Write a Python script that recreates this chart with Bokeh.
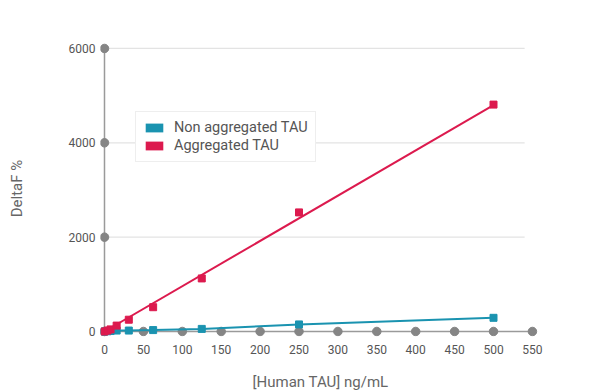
from bokeh.plotting import figure
from bokeh.models import Range1d, FixedTicker, Legend, LegendItem
from bokeh.embed import file_html
from bokeh.resources import INLINE

# ---- data ----
conc = [0, 3.9, 7.8, 15.6, 31.25, 62.5, 125, 250, 500]
aggregated = [0, 20, 45, 125, 250, 515, 1125, 2525, 4810]
non_aggregated = [0, 5, 10, 20, 20, 30, 55, 150, 290]
agg_fit_x = [0, 500]
agg_fit_y = [0, 4800]
x_ticks = [0, 50, 100, 150, 200, 250, 300, 350, 400, 450, 500, 550]
y_ticks = [0, 2000, 4000, 6000]
grid_levels = [2000, 4000, 6000]
grid_end = 540
series_names = ["Non aggregated TAU", "Aggregated TAU"]

TEAL = "#1a93b0"
CRIMSON = "#dc1a4e"
AXIS = "#9a9a9a"
DOT = "#858585"
FONT = "Roboto"
NAN = float("nan")

p = figure(frame_width=440, frame_height=296, min_border_left=100, min_border_top=40,
           min_border_right=24, min_border_bottom=44,
           x_range=Range1d(-5.14, 560.4), y_range=Range1d(-106, 6169),
           output_backend="svg", toolbar_location=None)
p.outline_line_color = None
p.xgrid.visible = False
p.ygrid.visible = False
p.background_fill_color = "white"
p.border_fill_color = "white"

for ax in (p.xaxis[0], p.yaxis[0]):
    ax.axis_line_color = None
    ax.major_tick_line_color = None
    ax.minor_tick_line_color = None
    ax.major_tick_out = 0
    ax.major_tick_in = 0
    ax.major_label_text_font = FONT
    ax.major_label_text_font_size = "12px"
    ax.major_label_text_color = "#555555"
    ax.axis_label_text_font = FONT
    ax.axis_label_text_font_size = "15px"
    ax.axis_label_text_font_style = "normal"
    ax.axis_label_text_color = "#666666"

p.xaxis.ticker = FixedTicker(ticks=x_ticks)
p.yaxis.ticker = FixedTicker(ticks=y_ticks)
p.xaxis.major_label_standoff = 8
p.yaxis.major_label_standoff = 5
p.xaxis.axis_label = "[Human TAU] ng/mL"
p.yaxis.axis_label = "DeltaF %"
p.xaxis.axis_label_standoff = 16
p.yaxis.axis_label_standoff = 40

# grid lines
p.segment(x0=[0] * len(grid_levels), y0=grid_levels, x1=[grid_end] * len(grid_levels),
          y1=grid_levels, line_color="#e3e3e3", line_width=1.2)
# axis lines
p.segment(x0=[0, 0], y0=[0, 0], x1=[x_ticks[-1], 0], y1=[0, y_ticks[-1]],
          line_color=AXIS, line_width=1.5)
# tick dots
p.scatter(x=x_ticks, y=[0] * len(x_ticks), size=8.5, color=DOT)
p.scatter(x=[0] * len(y_ticks), y=y_ticks, size=8.5, color=DOT)

# series
p.line(conc, non_aggregated, line_color=TEAL, line_width=2)
p.line(agg_fit_x, agg_fit_y, line_color=CRIMSON, line_width=2)
p.scatter(conc, non_aggregated, marker="square", size=7, color=TEAL)
p.scatter(conc, aggregated, marker="square", size=7, color=CRIMSON)

# legend proxies (not drawn in the plot: NaN coordinates)
q1 = p.quad(left=[NAN], right=[NAN], top=[NAN], bottom=[NAN], fill_color=TEAL, line_color=None)
q2 = p.quad(left=[NAN], right=[NAN], top=[NAN], bottom=[NAN], fill_color=CRIMSON, line_color=None)
legend = Legend(items=[LegendItem(label=series_names[0], renderers=[q1]),
                       LegendItem(label=series_names[1], renderers=[q2])],
                location=(35, 174), padding=7, spacing=1, label_height=16,
                glyph_height=11, glyph_width=22, label_standoff=9,
                label_text_font=FONT, label_text_font_size="14.5px",
                label_text_color="#555555", border_line_color="#dddddd",
                border_line_width=1.5, background_fill_alpha=1.0, margin=0)
p.add_layout(legend)

open("out.html", "w").write(file_html(p, INLINE))
